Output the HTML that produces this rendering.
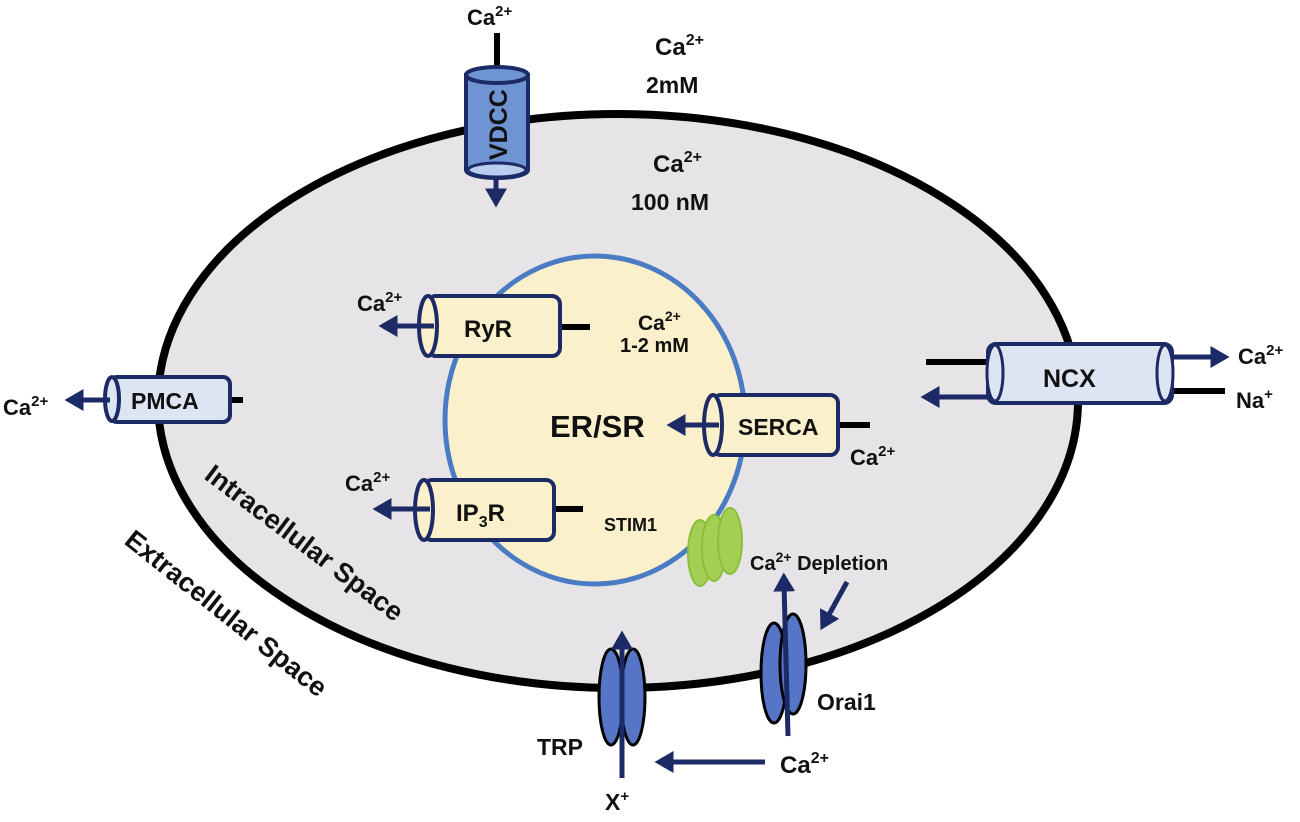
<!DOCTYPE html>
<html><head><meta charset="utf-8"><style>
html,body{margin:0;padding:0;background:#fff;}
svg text{font-family:"Liberation Sans",sans-serif;font-weight:bold;fill:#111;}
</style></head><body>
<svg width="1300" height="817" viewBox="0 0 1300 817" xmlns="http://www.w3.org/2000/svg">
<defs>
<marker id="ah" markerWidth="5" markerHeight="5" refX="1.5" refY="2.2" orient="auto" markerUnits="strokeWidth">
<path d="M0,0 L3.8,2.2 L0,4.4 Z" fill="#1c2a66"/></marker>
</defs>
<!-- cell -->
<ellipse cx="618" cy="401" rx="460" ry="287" fill="#e6e4e6" stroke="#000" stroke-width="8"/>
<!-- ER -->
<ellipse cx="595" cy="420" rx="150" ry="164" fill="#fbf0cc" stroke="#4a7cc4" stroke-width="5"/>

<!-- VDCC -->
<line x1="497" y1="33" x2="497" y2="70" stroke="#000" stroke-width="6"/>
<line x1="496" y1="172" x2="496" y2="196" stroke="#1c2a66" stroke-width="5" marker-end="url(#ah)"/>
<path d="M466,75 L466,170 A31,8 0 0 0 528,170 L528,75 Z" fill="#6f94d4" stroke="#1c2a66" stroke-width="4"/>
<ellipse cx="497" cy="75" rx="31" ry="8" fill="#6f94d4" stroke="#1c2a66" stroke-width="4"/>
<ellipse cx="497" cy="170" rx="29" ry="7" fill="#b8cdef" stroke="#1c2a66" stroke-width="3"/>
<text x="0" y="0" font-size="25" transform="translate(507,160) rotate(-90)">VDCC</text>
<text x="467" y="25" font-size="22">Ca<tspan font-size="15" dy="-9">2+</tspan></text>

<text x="655" y="55" font-size="24">Ca<tspan font-size="16" dy="-10">2+</tspan></text>
<text x="646" y="93" font-size="23">2mM</text>
<text x="653" y="172" font-size="24">Ca<tspan font-size="16" dy="-10">2+</tspan></text>
<text x="631" y="210" font-size="23">100 nM</text>

<!-- ER labels -->
<text x="638" y="330" font-size="21">Ca<tspan font-size="14" dy="-9">2+</tspan></text>
<text x="620" y="352" font-size="20">1-2 mM</text>
<text x="550" y="437" font-size="31">ER/SR</text>
<text x="604" y="531" font-size="18">STIM1</text>

<!-- RyR -->
<line x1="558" y1="327" x2="590" y2="327" stroke="#000" stroke-width="6"/>
<rect x="428" y="296" width="132" height="60" rx="8" fill="#fbf0cc" stroke="#1c2a66" stroke-width="4"/>
<ellipse cx="428" cy="326" rx="9" ry="30" fill="#fbf0cc" stroke="#1c2a66" stroke-width="4"/>
<line x1="434" y1="326" x2="390" y2="326" stroke="#1c2a66" stroke-width="5" marker-end="url(#ah)"/>
<text x="464" y="337" font-size="24">RyR</text>
<text x="357" y="311" font-size="22">Ca<tspan font-size="15" dy="-9">2+</tspan></text>

<!-- IP3R -->
<line x1="551" y1="509" x2="583" y2="509" stroke="#000" stroke-width="6"/>
<rect x="424" y="480" width="130" height="60" rx="8" fill="#fbf0cc" stroke="#1c2a66" stroke-width="4"/>
<ellipse cx="424" cy="510" rx="9" ry="30" fill="#fbf0cc" stroke="#1c2a66" stroke-width="4"/>
<line x1="430" y1="509" x2="384" y2="509" stroke="#1c2a66" stroke-width="5" marker-end="url(#ah)"/>
<text x="456" y="521" font-size="24">IP<tspan font-size="16" dy="6">3</tspan><tspan dy="-6">R</tspan></text>
<text x="345" y="491" font-size="22">Ca<tspan font-size="15" dy="-9">2+</tspan></text>

<!-- SERCA -->
<line x1="836" y1="425" x2="870" y2="425" stroke="#000" stroke-width="6"/>
<rect x="713" y="395" width="125" height="60" rx="8" fill="#fbf0cc" stroke="#1c2a66" stroke-width="4"/>
<ellipse cx="713" cy="425" rx="9" ry="30" fill="#fbf0cc" stroke="#1c2a66" stroke-width="4"/>
<line x1="719" y1="425" x2="678" y2="425" stroke="#1c2a66" stroke-width="5" marker-end="url(#ah)"/>
<text x="738" y="435" font-size="23">SERCA</text>
<text x="850" y="465" font-size="22">Ca<tspan font-size="15" dy="-9">2+</tspan></text>

<!-- PMCA -->
<line x1="228" y1="400" x2="243" y2="400" stroke="#000" stroke-width="6"/>
<rect x="110" y="377" width="120" height="45" rx="7" fill="#dde5f3" stroke="#1c2a66" stroke-width="4"/>
<ellipse cx="112" cy="399" rx="7" ry="22" fill="#dde5f3" stroke="#1c2a66" stroke-width="4"/>
<line x1="110" y1="400" x2="76" y2="400" stroke="#1c2a66" stroke-width="5" marker-end="url(#ah)"/>
<text x="131" y="409" font-size="23">PMCA</text>
<text x="3" y="415" font-size="22">Ca<tspan font-size="15" dy="-9">2+</tspan></text>

<!-- NCX -->
<line x1="926" y1="362" x2="990" y2="362" stroke="#000" stroke-width="6"/>
<line x1="1168" y1="391" x2="1225" y2="391" stroke="#000" stroke-width="6"/>
<line x1="990" y1="397" x2="932" y2="397" stroke="#1c2a66" stroke-width="5" marker-end="url(#ah)"/>
<line x1="1160" y1="357" x2="1218" y2="357" stroke="#1c2a66" stroke-width="5" marker-end="url(#ah)"/>
<rect x="988" y="344" width="184" height="59" rx="8" fill="#dde5f3" stroke="#1c2a66" stroke-width="4"/>
<ellipse cx="995" cy="373" rx="8" ry="28" fill="#dde5f3" stroke="#1c2a66" stroke-width="3"/>
<ellipse cx="1165" cy="373" rx="8" ry="28" fill="#dde5f3" stroke="#1c2a66" stroke-width="3"/>
<text x="1043" y="387" font-size="25">NCX</text>
<text x="1238" y="364" font-size="22">Ca<tspan font-size="15" dy="-9">2+</tspan></text>
<text x="1236" y="408" font-size="22">Na<tspan font-size="15" dy="-9">+</tspan></text>

<!-- STIM1 ovals -->
<ellipse cx="700" cy="553" rx="12" ry="33" fill="#a3cf55" stroke="#8bbf3a" stroke-width="2"/>
<ellipse cx="714" cy="548" rx="12" ry="33" fill="#a3cf55" stroke="#8bbf3a" stroke-width="2"/>
<ellipse cx="730" cy="541" rx="12" ry="33" fill="#a3cf55" stroke="#8bbf3a" stroke-width="2"/>
<text x="750" y="570" font-size="20">Ca<tspan font-size="14" dy="-8">2+</tspan><tspan dy="8"> Depletion</tspan></text>
<line x1="847" y1="582" x2="826" y2="620" stroke="#1c2a66" stroke-width="5" marker-end="url(#ah)"/>

<!-- Orai1 -->
<ellipse cx="774" cy="673" rx="13" ry="50" fill="#5675c6" stroke="#000" stroke-width="3"/>
<ellipse cx="793" cy="664" rx="13" ry="50" fill="#5675c6" stroke="#000" stroke-width="3"/>
<line x1="788" y1="736" x2="784" y2="584" stroke="#1c2a66" stroke-width="5" marker-end="url(#ah)"/>
<text x="817" y="710" font-size="23">Orai1</text>

<!-- TRP -->
<ellipse cx="611" cy="697" rx="12" ry="48" fill="#5675c6" stroke="#000" stroke-width="3"/>
<ellipse cx="633" cy="697" rx="12" ry="48" fill="#5675c6" stroke="#000" stroke-width="3"/>
<line x1="622" y1="778" x2="622" y2="642" stroke="#1c2a66" stroke-width="5" marker-end="url(#ah)"/>
<text x="537" y="755" font-size="23">TRP</text>
<text x="605" y="810" font-size="23">X<tspan font-size="15" dy="-9">+</tspan></text>
<line x1="765" y1="762" x2="666" y2="762" stroke="#1c2a66" stroke-width="5" marker-end="url(#ah)"/>
<text x="780" y="773" font-size="24">Ca<tspan font-size="16" dy="-10">2+</tspan></text>

<!-- Space labels -->
<text x="0" y="0" font-size="27" transform="translate(203,478) rotate(37)">Intracellular Space</text>
<text x="0" y="0" font-size="27" transform="translate(123,543) rotate(38.5)">Extracellular Space</text>
</svg>
</body></html>
